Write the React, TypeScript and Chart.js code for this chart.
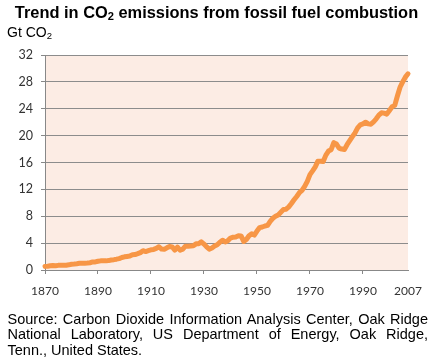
import React, { useEffect, useRef } from "react";
import { Chart, registerables } from "chart.js";

Chart.register(...registerables);

const startYear = 1870;
const endYear = 2007;
const xTickYears = [1870, 1890, 1910, 1930, 1950, 1970, 1990, 2007];
const yTicks = [0, 4, 8, 12, 16, 20, 24, 28, 32];

// Gt CO2, 1870..2007
const emissions = [
  0.54, 0.57, 0.63, 0.67, 0.64, 0.69, 0.70, 0.71, 0.72, 0.77,
  0.86, 0.89, 0.94, 1.00, 1.01, 1.01, 1.03, 1.08, 1.20, 1.20,
  1.30, 1.36, 1.37, 1.36, 1.40, 1.49, 1.54, 1.61, 1.70, 1.86,
  1.96, 2.02, 2.07, 2.26, 2.29, 2.43, 2.59, 2.87, 2.75, 2.88,
  3.00, 3.06, 3.22, 3.46, 3.11, 3.07, 3.30, 3.50, 3.43, 2.95,
  3.41, 2.94, 3.10, 3.55, 3.53, 3.57, 3.60, 3.89, 3.90, 4.20,
  3.86, 3.44, 3.10, 3.27, 3.56, 3.76, 4.14, 4.43, 4.18, 4.37,
  4.76, 4.89, 4.92, 5.10, 5.07, 4.25, 4.54, 5.10, 5.38, 5.20,
  5.80, 6.30, 6.40, 6.55, 6.65, 7.25, 7.70, 8.00, 8.20, 8.60,
  9.00, 9.05, 9.40, 9.90, 10.45, 10.95, 11.50, 11.85, 12.45, 13.20,
  14.20, 14.75, 15.35, 16.20, 16.20, 16.15, 17.10, 17.70, 17.90, 18.95,
  18.75, 18.15, 18.00, 17.95, 18.65, 19.25, 19.85, 20.40, 21.15, 21.60,
  21.75, 22.00, 21.75, 21.70, 22.05, 22.50, 23.05, 23.40, 23.35, 23.20,
  23.75, 24.30, 24.50, 25.90, 27.20, 28.00, 28.70, 29.20,
];

const years = emissions.map((_, i) => startYear + i);

const titleText = "Trend in CO";
const titleRest = " emissions from fossil fuel combustion";
const unitText = "Gt CO";
const sourceLines = [
  "Source: Carbon Dioxide Information Analysis Center, Oak Ridge",
  "National Laboratory, US Department of Energy, Oak Ridge,",
  "Tenn., United States.",
];

const plotBg = {
  id: "plotBg",
  beforeDraw(chart: any) {
    const { ctx, chartArea } = chart;
    ctx.save();
    ctx.fillStyle = "#FCECE4";
    ctx.fillRect(chartArea.left, chartArea.top, chartArea.right - chartArea.left, chartArea.bottom - chartArea.top);
    ctx.restore();
  },
};

export default function App() {
  const ref = useRef<HTMLCanvasElement | null>(null);

  useEffect(() => {
    if (!ref.current) return;
    const chart = new Chart(ref.current, {
      type: "line",
      data: {
        datasets: [
          {
            data: years.map((y, i) => ({ x: y, y: emissions[i] })),
            borderColor: "#F79646",
            borderWidth: 5,
            pointRadius: 0,
            tension: 0,
            borderJoinStyle: "round",
            borderCapStyle: "round",
            clip: 6,
          } as any,
        ],
      },
      options: {
        responsive: false,
        animation: false,
        devicePixelRatio: 1,
        layout: { padding: { left: 0, top: 55, right: 25, bottom: 60 } },
        plugins: { legend: { display: false }, tooltip: { enabled: false }, title: { display: false } },
        scales: {
          x: {
            type: "linear",
            min: startYear,
            max: endYear,
            afterBuildTicks: (s: any) => {
              s.ticks = xTickYears.map((v) => ({ value: v }));
            },
            afterFit: (s: any) => {
              s.height = 30;
            },
            ticks: {
              autoSkip: false,
              maxRotation: 0,
              padding: 10,
              color: "#333333",
              font: { family: "Lato", size: 12 },
              callback: (v: any) => String(v),
            },
            grid: {
              drawOnChartArea: false,
              tickLength: 4,
              color: "#888888",
              tickColor: (c: any) => (c.tick && c.tick.value === 2007 ? "rgba(0,0,0,0)" : "#888888"),
            },
            border: { display: true, color: "#888888", width: 1 },
          },
          y: {
            type: "linear",
            min: 0,
            max: 32,
            afterBuildTicks: (s: any) => {
              s.ticks = yTicks.map((v) => ({ value: v }));
            },
            afterFit: (s: any) => {
              s.width = 45;
            },
            ticks: {
              padding: 8,
              color: "#333333",
              font: { family: "Lato", size: 12.5 },
              callback: (v: any) => String(v),
            },
            grid: { color: "#8C8C8C", lineWidth: 1, tickLength: 4, tickColor: "#888888" },
            border: { display: true, color: "#888888", width: 1 },
          },
        },
      },
      plugins: [plotBg],
    } as any);
    return () => chart.destroy();
  }, []);

  const sub: React.CSSProperties = { fontSize: "0.68em", position: "relative", top: "0.22em" };

  return (
    <div style={{ position: "fixed", left: 0, top: 0, width: 433, height: 360, background: "#fff", fontFamily: "'Liberation Sans', Arial, sans-serif", color: "#000" }}>
      <canvas ref={ref} width={433} height={360} style={{ position: "absolute", left: 0, top: 0 }} />
      <div style={{ position: "absolute", left: 0, top: 3, width: 433, textAlign: "center", fontWeight: "bold", fontSize: 16.4, lineHeight: "18px", whiteSpace: "nowrap" }}>
        {titleText}<span style={sub}>2</span>{titleRest}
      </div>
      <div style={{ position: "absolute", left: 7, top: 24, fontSize: 14, lineHeight: "16px", whiteSpace: "nowrap" }}>
        {unitText}<span style={sub}>2</span>
      </div>
      <div style={{ position: "absolute", left: 7.5, top: 311.5, width: 420.5, fontSize: 14.5, lineHeight: "15.5px" }}>
        {sourceLines.map((l, i) => (
          <div key={i} style={{ textAlign: i < sourceLines.length - 1 ? "justify" : "left", textAlignLast: i < sourceLines.length - 1 ? "justify" : "left", whiteSpace: "nowrap" as any }}>
            {l}
          </div>
        ))}
      </div>
    </div>
  );
}
